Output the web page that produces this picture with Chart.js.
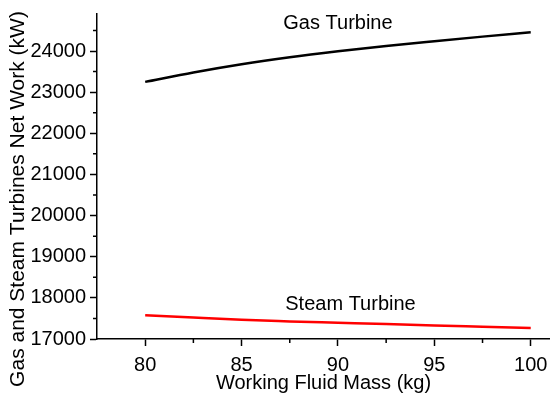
<!DOCTYPE html>
<html>
<head>
<meta charset="utf-8">
<script src="https://cdn.jsdelivr.net/npm/chart.js@4.4.1/dist/chart.umd.min.js"></script>
<style>
  html, body { margin: 0; padding: 0; background: #fff; }
  #wrap { width: 550px; height: 397px; }
</style>
</head>
<body>
<div id="wrap"><canvas id="myChart"></canvas></div>
<script>
// data
const mass = [80, 82.5, 85, 87.5, 90, 92.5, 95, 97.5, 100];
const gasWork = [23250, 23480, 23680, 23850, 23995, 24125, 24240, 24350, 24455];
const steamWork = [17580, 17520, 17465, 17428, 17395, 17362, 17330, 17300, 17270];
const xTicks = [80, 85, 90, 95, 100];
const yTicks = [17000, 18000, 19000, 20000, 21000, 22000, 23000, 24000];
const xMinor = [82.5, 87.5, 92.5, 97.5];
const yMinor = [17500, 18500, 19500, 20500, 21500, 22500, 23500, 24500];
const yTitle = 'Gas and Steam Turbines Net Work (kW)';

const fontFamily = "'Liberation Sans', Arial, sans-serif";
Chart.defaults.font.family = fontFamily;
Chart.defaults.font.size = 20;
Chart.defaults.color = '#000';

// short minor ticks, the y title (sits a bit low, like the original) and curve labels
const extras = {
    id: 'extras',
    afterDraw(chart) {
        const ctx = chart.ctx;
        const xs = chart.scales.x, ys = chart.scales.y;
        ctx.save();
        ctx.strokeStyle = '#000';
        ctx.lineWidth = 1.5;
        ctx.beginPath();
        yMinor.forEach(v => {
            const py = ys.getPixelForValue(v);
            ctx.moveTo(xs.left, py);
            ctx.lineTo(xs.left - 4, py);
        });
        xMinor.forEach(v => {
            const px = xs.getPixelForValue(v);
            ctx.moveTo(px, ys.bottom);
            ctx.lineTo(px, ys.bottom + 4);
        });
        ctx.stroke();

        ctx.fillStyle = '#000';
        ctx.textAlign = 'center';
        ctx.textBaseline = 'middle';
        ctx.font = '20px ' + fontFamily;
        ctx.fillText('Gas Turbine', xs.getPixelForValue(90), ys.getPixelForValue(24660));
        ctx.fillText('Steam Turbine', xs.getPixelForValue(90.65), ys.getPixelForValue(17850));

        ctx.translate(18, 199);
        ctx.rotate(-Math.PI / 2);
        ctx.font = '21px ' + fontFamily;
        ctx.fillText(yTitle, 0, 0);
        ctx.restore();
    }
};

const ctx = document.getElementById('myChart').getContext('2d');
new Chart(ctx, {
    type: 'line',
    data: {
        labels: mass,
        datasets: [
            {
                label: 'Gas Turbine',
                data: mass.map((m, i) => ({x: m, y: gasWork[i]})),
                borderColor: '#000',
                borderWidth: 2.5,
                pointRadius: 0,
                cubicInterpolationMode: 'monotone'
            },
            {
                label: 'Steam Turbine',
                data: mass.map((m, i) => ({x: m, y: steamWork[i]})),
                borderColor: '#ff0000',
                borderWidth: 2.5,
                pointRadius: 0,
                cubicInterpolationMode: 'monotone'
            }
        ]
    },
    options: {
        responsive: true,
        maintainAspectRatio: false,
        animation: false,
        layout: {padding: {top: 14, right: 0, left: 0, bottom: 0}},
        plugins: {
            legend: {display: false},
            tooltip: {enabled: false}
        },
        scales: {
            x: {
                type: 'linear',
                min: 77.5,
                max: 101,
                afterBuildTicks: s => { s.ticks = xTicks.map(v => ({value: v})); },
                afterFit: s => { s.height = 58; s.paddingLeft = 0; s.paddingRight = 0; },
                border: {display: true, color: '#000', width: 1.5},
                grid: {
                    display: true,
                    drawOnChartArea: false,
                    drawTicks: true,
                    tickLength: 7,
                    tickColor: '#000',
                    tickWidth: 1.5
                },
                ticks: {padding: 7, maxRotation: 0, callback: v => String(v)},
                title: {
                    display: true,
                    text: 'Working Fluid Mass (kg)',
                    padding: {top: 0, bottom: 2}
                }
            },
            y: {
                type: 'linear',
                min: 17000,
                max: 24900,
                afterBuildTicks: s => { s.ticks = yTicks.map(v => ({value: v})); },
                afterFit: s => { s.width = 97; s.paddingTop = 0; s.paddingBottom = 0; },
                border: {display: true, color: '#000', width: 1.5},
                grid: {
                    display: true,
                    drawOnChartArea: false,
                    drawTicks: true,
                    tickLength: 7,
                    tickColor: '#000',
                    tickWidth: 1.5
                },
                ticks: {padding: 4, callback: v => String(v)},
                title: {display: false}
            }
        }
    },
    plugins: [extras]
});
</script>
</body>
</html>
